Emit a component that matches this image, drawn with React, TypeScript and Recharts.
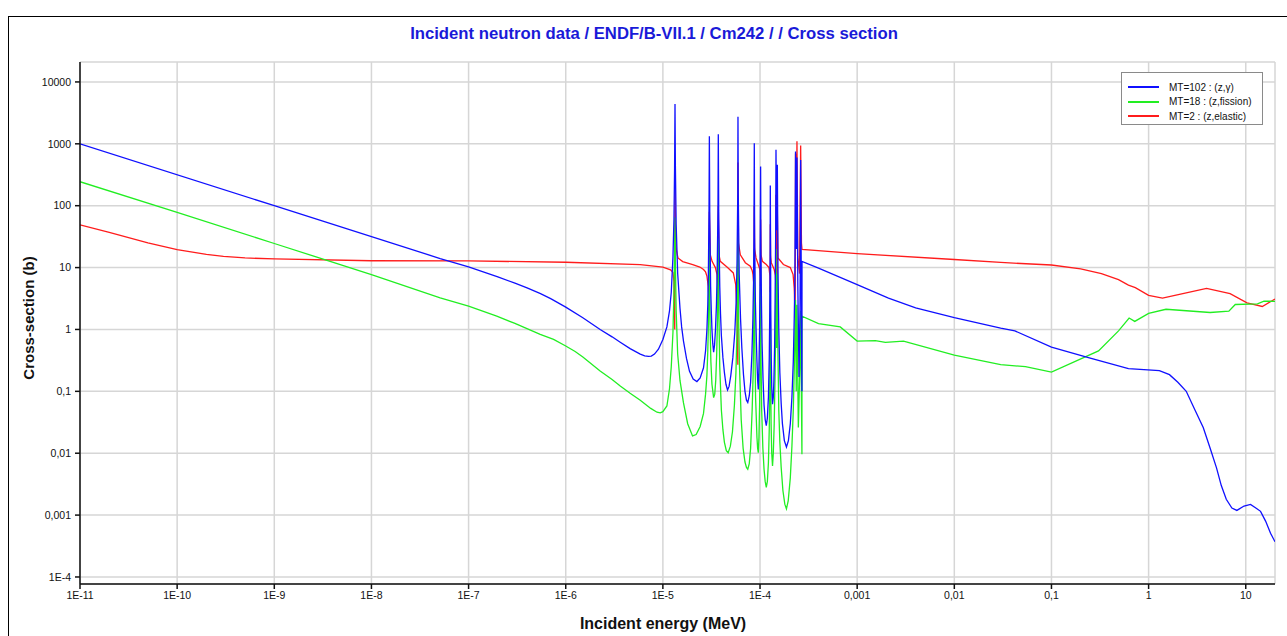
import { LineChart, Line, XAxis, YAxis, CartesianGrid } from 'recharts';

// energy (MeV) -> cross-section (b)
const captureXS: [number, number][] = [
  [1e-11, 1000], [1e-9, 100], [5.1e-8, 14], [1e-7, 10.3], [2e-7, 7.1], [3e-7, 5.6], [4e-7, 4.7],
  [5.5e-7, 3.8], [7e-7, 3.15], [1e-6, 2.3], [1.5e-6, 1.55], [2.26e-6, 1.0], [3.0e-6, 0.76],
  [3.64e-6, 0.62], [4.6e-6, 0.49], [5.85e-6, 0.4], [6.5e-6, 0.375], [7.1e-6, 0.368], [7.6e-6, 0.372],
  [8.2e-6, 0.4], [9.0e-6, 0.48], [1.0e-5, 0.69],
  [1.1e-5, 1.1], [1.17e-5, 2.0], [1.22e-5, 4], [1.27e-5, 15], [1.3e-5, 60], [1.32e-5, 400],
  [1.333e-5, 4400], [1.345e-5, 450], [1.37e-5, 50], [1.42e-5, 8], [1.5e-5, 2.2], [1.56e-5, 1.1],
  [1.63e-5, 0.65], [1.75e-5, 0.34], [1.88e-5, 0.21], [2.05e-5, 0.158], [2.24e-5, 0.144], [2.42e-5, 0.165],
  [2.62e-5, 0.24], [2.75e-5, 0.45], [2.84e-5, 1.0], [2.9e-5, 2.5], [2.94e-5, 8], [2.985e-5, 90],
  [3.01e-5, 1320], [3.04e-5, 60], [3.1e-5, 5], [3.15e-5, 2], [3.2e-5, 1.0], [3.26e-5, 0.6],
  [3.33e-5, 0.43], [3.4e-5, 0.55], [3.48e-5, 1.0], [3.56e-5, 2.5], [3.62e-5, 8], [3.69e-5, 90],
  [3.72e-5, 1430], [3.76e-5, 60], [3.85e-5, 5], [3.92e-5, 1.8], [4.0e-5, 0.8], [4.15e-5, 0.35],
  [4.3e-5, 0.2], [4.46e-5, 0.13], [4.63e-5, 0.105], [4.8e-5, 0.12], [5.0e-5, 0.18], [5.25e-5, 0.35],
  [5.5e-5, 0.9], [5.68e-5, 2.8], [5.8e-5, 12], [5.9e-5, 160], [5.93e-5, 2750], [5.97e-5, 160],
  [6.1e-5, 8], [6.3e-5, 1.5], [6.5e-5, 0.5], [6.75e-5, 0.19], [7.0e-5, 0.1], [7.25e-5, 0.072],
  [7.48e-5, 0.066], [7.75e-5, 0.085], [8.0e-5, 0.14], [8.25e-5, 0.4], [8.45e-5, 1.5], [8.58e-5, 6],
  [8.65e-5, 30], [8.73e-5, 1020], [8.8e-5, 30], [8.95e-5, 3], [9.1e-5, 1.0], [9.3e-5, 0.3],
  [9.45e-5, 0.15], [9.6e-5, 0.107], [9.75e-5, 0.25], [9.9e-5, 1.0], [1.0e-4, 6], [1.014e-4, 430],
  [1.022e-4, 20], [1.035e-4, 2.5], [1.05e-4, 0.6], [1.075e-4, 0.15], [1.1e-4, 0.06], [1.13e-4, 0.035],
  [1.16e-4, 0.028], [1.19e-4, 0.037], [1.22e-4, 0.08], [1.245e-4, 0.35], [1.26e-4, 2], [1.27e-4, 15],
  [1.276e-4, 213], [1.285e-4, 15], [1.29e-4, 2], [1.305e-4, 0.35], [1.32e-4, 0.12], [1.345e-4, 0.062],
  [1.37e-4, 0.08], [1.39e-4, 0.15], [1.415e-4, 0.6], [1.43e-4, 3], [1.45e-4, 40], [1.46e-4, 800],
  [1.48e-4, 40], [1.507e-4, 460], [1.53e-4, 10], [1.56e-4, 1], [1.6e-4, 0.2], [1.65e-4, 0.065],
  [1.7e-4, 0.03], [1.78e-4, 0.016], [1.87e-4, 0.0126], [1.96e-4, 0.016], [2.05e-4, 0.03], [2.13e-4, 0.08],
  [2.2e-4, 0.3], [2.25e-4, 1.5], [2.28e-4, 5], [2.3e-4, 50], [2.32e-4, 750], [2.36e-4, 20],
  [2.4e-4, 600], [2.45e-4, 5], [2.52e-4, 0.17], [2.58e-4, 2], [2.62e-4, 550], [2.66e-4, 5],
  [2.7e-4, 0.1], [2.705e-4, 12.6], [4e-4, 9.8], [1e-3, 5.3], [2.1e-3, 3.2], [4e-3, 2.24],
  [0.01, 1.55], [0.03, 1.05], [0.042, 0.95], [0.1, 0.52], [0.24, 0.35], [0.62, 0.233], [1.29, 0.216],
  [1.64, 0.186], [2.0, 0.14], [2.44, 0.1], [3.0, 0.05], [3.65, 0.026], [4.3, 0.012], [5.0, 0.0058],
  [5.6, 0.003], [6.3, 0.0018], [7.2, 0.0013], [8.1, 0.00119], [9.6, 0.0014], [11.2, 0.00149],
  [12.7, 0.0013], [14.2, 0.00115], [16, 8e-4], [18, 5.1e-4], [20, 3.7e-4],
];

const fissionXS: [number, number][] = [
  [1e-11, 244], [1e-10, 78], [1e-9, 24.5], [1e-8, 7.7], [5.1e-8, 3.24], [1e-7, 2.38], [1.95e-7, 1.64],
  [3e-7, 1.25], [5.46e-7, 0.83], [7.5e-7, 0.69], [1e-6, 0.54], [1.25e-6, 0.44], [1.5e-6, 0.36],
  [2.26e-6, 0.213], [3.0e-6, 0.155], [3.64e-6, 0.122], [4.6e-6, 0.093], [5.85e-6, 0.072], [7.5e-6, 0.053],
  [8.7e-6, 0.046], [9.4e-6, 0.045], [1.0e-5, 0.047], [1.1e-5, 0.058], [1.17e-5, 0.11], [1.22e-5, 0.25],
  [1.27e-5, 0.9], [1.3e-5, 4], [1.32e-5, 20], [1.333e-5, 65], [1.345e-5, 12], [1.37e-5, 2], [1.42e-5, 0.4], [1.5e-5, 0.15],
  [1.63e-5, 0.065], [1.8e-5, 0.03], [2.02e-5, 0.019], [2.2e-5, 0.02], [2.42e-5, 0.027], [2.62e-5, 0.044],
  [2.75e-5, 0.09], [2.84e-5, 0.18], [2.9e-5, 0.45], [2.95e-5, 1.5], [3.01e-5, 25], [3.06e-5, 1.2],
  [3.12e-5, 0.3], [3.2e-5, 0.13], [3.33e-5, 0.079], [3.42e-5, 0.09], [3.5e-5, 0.15], [3.58e-5, 0.4],
  [3.65e-5, 1.5], [3.72e-5, 30], [3.78e-5, 1.5], [3.85e-5, 0.25], [4.0e-5, 0.05], [4.15e-5, 0.024],
  [4.3e-5, 0.015], [4.5e-5, 0.011], [4.7e-5, 0.0102], [4.95e-5, 0.013], [5.2e-5, 0.022], [5.45e-5, 0.06],
  [5.65e-5, 0.2], [5.8e-5, 1], [5.93e-5, 60], [6.0e-5, 2], [6.15e-5, 0.25], [6.4e-5, 0.035],
  [6.7e-5, 0.012], [7.0e-5, 0.0072], [7.25e-5, 0.0059], [7.48e-5, 0.0055], [7.75e-5, 0.0068], [8.0e-5, 0.012],
  [8.3e-5, 0.05], [8.5e-5, 0.2], [8.65e-5, 2], [8.73e-5, 20], [8.85e-5, 0.5], [9.0e-5, 0.08],
  [9.3e-5, 0.018], [9.45e-5, 0.012], [9.6e-5, 0.0102], [9.75e-5, 0.018], [9.9e-5, 0.06], [1.005e-4, 0.6],
  [1.014e-4, 10], [1.025e-4, 0.3], [1.04e-4, 0.05], [1.07e-4, 0.012], [1.1e-4, 0.0055], [1.13e-4, 0.0035],
  [1.16e-4, 0.0028], [1.19e-4, 0.0035], [1.22e-4, 0.007], [1.245e-4, 0.025], [1.26e-4, 0.1], [1.27e-4, 0.6],
  [1.276e-4, 5], [1.285e-4, 0.2], [1.3e-4, 0.03], [1.32e-4, 0.01], [1.345e-4, 0.0062], [1.37e-4, 0.01],
  [1.4e-4, 0.03], [1.43e-4, 0.2], [1.45e-4, 1], [1.46e-4, 20], [1.48e-4, 0.5], [1.5e-4, 0.8],
  [1.507e-4, 8], [1.53e-4, 0.4], [1.56e-4, 0.05], [1.6e-4, 0.015], [1.65e-4, 0.006], [1.72e-4, 0.0025],
  [1.8e-4, 0.0015], [1.87e-4, 0.00126], [1.95e-4, 0.0017], [2.05e-4, 0.004], [2.13e-4, 0.013], [2.2e-4, 0.05],
  [2.26e-4, 0.3], [2.32e-4, 3], [2.36e-4, 0.1], [2.4e-4, 2.5], [2.48e-4, 0.026], [2.58e-4, 0.3],
  [2.62e-4, 2], [2.7e-4, 0.0096], [2.705e-4, 1.64], [4.0e-4, 1.24], [6.7e-4, 1.1], [1e-3, 0.65],
  [1.54e-3, 0.66], [1.95e-3, 0.62], [3.0e-3, 0.65], [0.01, 0.385], [0.03, 0.27], [0.054, 0.25],
  [0.1, 0.205], [0.305, 0.45], [0.49, 0.95], [0.63, 1.53], [0.72, 1.35], [1.0, 1.82], [1.51, 2.12],
  [4.3, 1.88], [6.7, 1.97], [7.8, 2.53], [13.2, 2.6], [15.4, 2.87], [20, 2.85],
];

const elasticXS: [number, number][] = [
  [1e-11, 49], [2e-11, 37], [5e-11, 25], [1e-10, 19.5], [2e-10, 16.3], [3e-10, 15.2], [5e-10, 14.3],
  [1e-9, 13.8], [1e-8, 12.9], [1e-7, 12.8], [1e-6, 12.2], [5.85e-6, 11.2], [1e-5, 10.2], [1.2e-5, 9.2],
  [1.27e-5, 8.3], [1.3e-5, 6], [1.325e-5, 1.0], [1.333e-5, 220], [1.345e-5, 40], [1.37e-5, 20],
  [1.43e-5, 14.3], [1.6e-5, 12.5], [2.03e-5, 11.2], [2.4e-5, 10.2], [2.62e-5, 9.3], [2.75e-5, 8.5],
  [2.84e-5, 7.3], [2.93e-5, 5], [2.98e-5, 3], [3.01e-5, 80], [3.08e-5, 16], [3.21e-5, 12.6],
  [3.47e-5, 10], [3.61e-5, 7.7], [3.67e-5, 5], [3.7e-5, 3], [3.72e-5, 100], [3.78e-5, 16],
  [3.9e-5, 12.6], [4.6e-5, 10.1], [5.31e-5, 8.2], [5.62e-5, 5.3], [5.79e-5, 2], [5.91e-5, 0.27],
  [5.93e-5, 500], [6.0e-5, 25], [6.27e-5, 16.1], [7.06e-5, 12.0], [7.94e-5, 10.5], [8.3e-5, 9.0],
  [8.47e-5, 7.7], [8.62e-5, 5.5], [8.7e-5, 3.7], [8.73e-5, 100], [8.8e-5, 20], [9.1e-5, 14.3],
  [9.6e-5, 11.2], [9.95e-5, 9.4], [1.008e-4, 7], [1.011e-4, 5], [1.014e-4, 60], [1.025e-4, 16],
  [1.057e-4, 12.6], [1.16e-4, 11.2], [1.236e-4, 10], [1.265e-4, 7.3], [1.273e-4, 4], [1.276e-4, 50],
  [1.285e-4, 15], [1.306e-4, 12.0], [1.4e-4, 9.3], [1.44e-4, 7.5], [1.455e-4, 5], [1.46e-4, 150],
  [1.48e-4, 12], [1.503e-4, 6], [1.507e-4, 80], [1.53e-4, 14.3], [1.74e-4, 11.2], [2.05e-4, 10],
  [2.19e-4, 7.7], [2.25e-4, 4.6], [2.3e-4, 1.5], [2.32e-4, 700], [2.36e-4, 30], [2.4e-4, 1100],
  [2.45e-4, 15], [2.55e-4, 8], [2.62e-4, 940], [2.67e-4, 25], [2.705e-4, 19.7], [1e-3, 16.8],
  [0.01, 13.5], [0.03, 12.1], [0.1, 11.0], [0.2, 9.5], [0.327, 8.0], [0.49, 6.4], [0.62, 5.2],
  [0.73, 4.75], [1.0, 3.55], [1.39, 3.2], [2.25, 3.78], [3.95, 4.6], [6.9, 3.78], [10.3, 2.7],
  [14.8, 2.35], [20, 3.1],
];

const xTicks = [1e-11, 1e-10, 1e-9, 1e-8, 1e-7, 1e-6, 1e-5, 1e-4, 1e-3, 0.01, 0.1, 1, 10];
const xTickLabels = ['1E-11', '1E-10', '1E-9', '1E-8', '1E-7', '1E-6', '1E-5', '1E-4', '0,001', '0,01', '0,1', '1', '10'];
const yTicks = [1e-4, 1e-3, 0.01, 0.1, 1, 10, 100, 1000, 10000];
const yTickLabels = ['1E-4', '0,001', '0,01', '0,1', '1', '10', '100', '1000', '10000'];

const series = [
  { key: 'mt102', name: 'MT=102 : (z,\u03b3)', color: '#1010ff', data: captureXS },
  { key: 'mt18', name: 'MT=18 : (z,fission)', color: '#22ee22', data: fissionXS },
  { key: 'mt2', name: 'MT=2 : (z,elastic)', color: '#ff1c1c', data: elasticXS },
];

const toPoints = (pairs: [number, number][]) => pairs.map(([x, y]) => ({ x, y }));

const font = '"Liberation Sans", Arial, sans-serif';
const tickStyle = { fontSize: 10.5, fill: '#111', fontFamily: font };

function LegendBox() {
  return (
    <div
      style={{
        position: 'absolute', left: 1121, top: 72, width: 142, height: 53,
        border: '1px solid #8a8a8a', background: '#fff', fontFamily: font, fontSize: 10,
        color: '#111', paddingTop: 7, boxSizing: 'border-box',
      }}
    >
      {series.map((s) => (
        <div key={s.key} style={{ display: 'flex', alignItems: 'center', height: 14.5 }}>
          <span style={{ display: 'inline-block', width: 31, height: 2, background: s.color, marginLeft: 6, marginRight: 10 }} />
          <span>{s.name}</span>
        </div>
      ))}
    </div>
  );
}

export default function App() {
  const drawOrder = [series[2], series[1], series[0]];
  return (
    <div style={{ position: 'fixed', left: 0, top: 0, width: 1287, height: 636, overflow: 'hidden', background: '#fff' }}>
      <div style={{ position: 'absolute', left: 8, top: 16, width: 1320, height: 700, border: '1px solid #000' }} />
      <div
        style={{
          position: 'absolute', left: 0, top: 25, width: 1308, textAlign: 'center',
          fontFamily: font, fontWeight: 'bold', fontSize: 16.7, lineHeight: '18px', color: '#1a1ad8',
        }}
      >
        Incident neutron data / ENDF/B-VII.1 / Cm242 / / Cross section
      </div>
      <div style={{ position: 'absolute', left: 0, top: 0 }}>
        <LineChart width={1287} height={636} margin={{ top: 62, right: 12, bottom: 0, left: 0 }}>
          <CartesianGrid stroke="#d6d6d6" strokeWidth={1.5} />
          <XAxis
            dataKey="x"
            type="number"
            scale="log"
            domain={[1e-11, 20]}
            allowDataOverflow
            ticks={xTicks}
            interval={0}
            tickFormatter={(_v: number, i: number) => xTickLabels[i]}
            tick={tickStyle}
            tickSize={5}
            tickMargin={3}
            height={52}
            stroke="#111"
            strokeWidth={1.5}
          />
          <XAxis xAxisId="top" orientation="top" type="number" scale="log" domain={[1e-11, 20]} allowDataOverflow tick={false} height={0} stroke="#333" strokeWidth={1.5} />
          <YAxis
            type="number"
            scale="log"
            domain={[7.7e-5, 21000]}
            allowDataOverflow
            ticks={yTicks}
            interval={0}
            tickFormatter={(_v: number, i: number) => yTickLabels[i]}
            tick={tickStyle}
            tickSize={5}
            tickMargin={4}
            width={80}
            stroke="#111"
            strokeWidth={1.5}
          />
          <YAxis yAxisId="right" orientation="right" type="number" scale="log" domain={[7.7e-5, 21000]} allowDataOverflow tick={false} width={0} stroke="#333" strokeWidth={1.5} />
          {drawOrder.map((s) => (
            <Line
              key={s.key}
              data={toPoints(s.data)}
              dataKey="y"
              name={s.name}
              type="linear"
              stroke={s.color}
              strokeWidth={1.3}
              dot={false}
              activeDot={false}
              isAnimationActive={false}
            />
          ))}
        </LineChart>
      </div>
      <LegendBox />
      <div
        style={{
          position: 'absolute', left: 663, top: 624, transform: 'translate(-50%, -50%)', whiteSpace: 'nowrap',
          fontFamily: font, fontWeight: 'bold', fontSize: 16, color: '#111',
        }}
      >
        Incident energy (MeV)
      </div>
      <div
        style={{
          position: 'absolute', left: 28, top: 318, transform: 'translate(-50%, -50%) rotate(-90deg)', whiteSpace: 'nowrap',
          fontFamily: font, fontWeight: 'bold', fontSize: 15, color: '#111',
        }}
      >
        Cross-section (b)
      </div>
    </div>
  );
}
